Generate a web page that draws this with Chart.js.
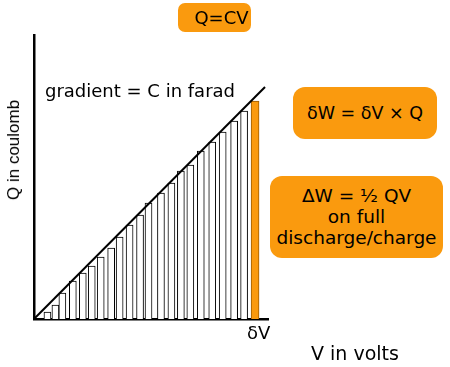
<!DOCTYPE html>
<html>
<head>
<meta charset="utf-8">
<script src="https://cdn.jsdelivr.net/npm/chart.js@4/dist/chart.umd.min.js"></script>
<style>
  html, body { margin: 0; padding: 0; background: #fff; }
  #wrap { position: relative; width: 450px; height: 367px; overflow: hidden; }
  #chart { position: absolute; left: 0; top: 0; }
  .lbl { position: absolute; font-family: "DejaVu Sans", sans-serif; color: #000; white-space: nowrap; }
  .box { position: absolute; background: #fa9a0e; border-radius: 12px; font-family: "DejaVu Sans", sans-serif; color: #000; text-align: center; white-space: nowrap; }
</style>
</head>
<body>
<div id="wrap">
  <canvas id="chart" width="450" height="367"></canvas>
  <div class="box" style="left:178px;top:3px;width:73px;height:29px;border-radius:7px;font-size:18px;line-height:29px;text-indent:14px;">Q=CV</div>
  <div class="box" style="left:293px;top:87px;width:144px;height:52px;font-size:17.5px;line-height:52px;">δW = δV × Q</div>
  <div class="box" style="left:270px;top:176px;width:173px;height:82px;font-size:18.5px;line-height:21px;padding-top:9px;box-sizing:border-box;">ΔW = ½ QV<br>on full<br>discharge/charge</div>
  <div class="lbl" style="left:45px;top:80px;font-size:18px;">gradient = C in farad</div>
  <div class="lbl" style="left:247px;top:322px;font-size:18px;">δV</div>
  <div class="lbl" style="left:311px;top:342px;font-size:19px;">V in volts</div>
  <div class="lbl" style="left:14px;top:150px;font-family:'Liberation Sans',Arial,sans-serif;font-size:17px;transform:translate(-50%,-50%) rotate(-90deg);">Q in coulomb</div>
</div>
<script>
// step centres along V and the charge reached at each step
const stepV = [1.35, 2.15, 2.85, 3.9, 4.9, 5.8, 6.7, 7.75, 8.6, 9.6, 10.65, 11.5, 12.75, 13.8, 14.75, 15.7, 16.75, 17.9, 18.95, 20.1, 21.1];
const stepQ = [0.7, 1.4, 2.6, 3.8, 4.6, 5.3, 6.2, 7.1, 8.2, 9.4, 10.4, 11.6, 12.6, 13.6, 14.8, 15.4, 16.8, 17.7, 18.7, 19.8, 20.8];
// last (highlighted) strip, width δV
const lastV = [22.2];
const lastQ = [21.8];
// Q = CV line end points
const lineV = [0, 23.2];
const lineQ = [0, 23.2];

const toPts = (xs, ys) => xs.map((x, i) => ({ x, y: ys[i] }));

new Chart(document.getElementById('chart'), {
  type: 'bar',
  data: {
    datasets: [
      {
        type: 'line',
        data: toPts(lineV, lineQ),
        borderColor: '#000',
        borderWidth: 2,
        pointRadius: 0,
        order: 0
      },
      {
        data: toPts(stepV, stepQ),
        backgroundColor: '#fff',
        borderColor: '#000',
        borderWidth: 1,
        barThickness: 7,
        grouped: false,
        order: 1
      },
      {
        data: toPts(lastV, lastQ),
        backgroundColor: '#fa9a0e',
        borderColor: '#9a5a00',
        borderWidth: 1,
        barThickness: 8,
        grouped: false,
        order: 1
      }
    ]
  },
  options: {
    responsive: false,
    animation: false,
    layout: { padding: { left: 26, top: 35, right: 182, bottom: 40 } },
    plugins: { legend: { display: false }, tooltip: { enabled: false } },
    scales: {
      x: {
        type: 'linear', min: 0, max: 23.5, offset: false,
        ticks: { display: false },
        grid: { display: false },
        border: { display: true, color: '#000', width: 2.5 }
      },
      y: {
        type: 'linear', min: 0, max: 28.4,
        ticks: { display: false },
        grid: { display: false },
        border: { display: true, color: '#000', width: 2.5 }
      }
    }
  }
});
</script>
</body>
</html>
